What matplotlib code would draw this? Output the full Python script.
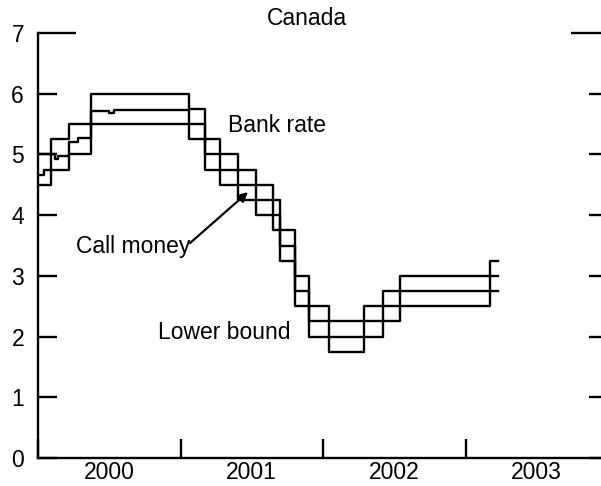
import matplotlib
matplotlib.use("Agg")
import matplotlib.pyplot as plt

plt.rcParams['font.family'] = ['Liberation Sans', 'DejaVu Sans']

# Policy rate changes (decimal years), levels in percent
bank_dates = [2000.00, 2000.09, 2000.22, 2000.375, 2001.06, 2001.17, 2001.28, 2001.40,
              2001.53, 2001.65, 2001.70, 2001.80, 2001.90, 2002.04, 2002.29, 2002.42,
              2002.54, 2003.17, 2003.23]
bank_rate = [5.00, 5.25, 5.50, 6.00, 5.75, 5.25, 5.00, 4.75, 4.50, 4.25, 3.75, 3.00,
             2.50, 2.25, 2.50, 2.75, 3.00, 3.25, 3.25]
lower_bound = [4.50, 4.75, 5.00, 5.50, 5.25, 4.75, 4.50, 4.25, 4.00, 3.75, 3.25, 2.50,
               2.00, 1.75, 2.00, 2.25, 2.50, 2.75, 2.75]

call_dates = [2000.00, 2000.04, 2000.09, 2000.12, 2000.14, 2000.22, 2000.28, 2000.375,
              2000.50, 2000.53, 2001.06, 2001.17, 2001.28, 2001.40, 2001.53, 2001.65,
              2001.70, 2001.80, 2001.90, 2002.04, 2002.29, 2002.42, 2002.54, 2003.17,
              2003.23]
call_money = [4.66, 4.74, 5.00, 4.92, 4.98, 5.21, 5.27, 5.72, 5.69, 5.73, 5.50, 5.00,
              4.75, 4.50, 4.25, 4.00, 3.50, 2.75, 2.25, 2.00, 2.25, 2.50, 2.75, 3.00,
              3.00]

year_labels = ['2000', '2001', '2002', '2003']
year_starts = [2000, 2001, 2002, 2003, 2004]
y_ticks = [0, 1, 2, 3, 4, 5, 6, 7]

FS = 16.5

fig = plt.figure(figsize=(6.01, 4.86), dpi=100)
ax = fig.add_axes([38 / 601, 28 / 486, 570 / 601, 425 / 486])

lw = 1.7
ax.plot(bank_dates, bank_rate, drawstyle='steps-post', color='black', lw=lw)
ax.plot(bank_dates, lower_bound, drawstyle='steps-post', color='black', lw=lw)
ax.plot(call_dates, call_money, drawstyle='steps-post', color='black', lw=lw)

ax.set_xlim(2000, 2004)
ax.set_ylim(0, 7)

for side in ['top', 'right']:
    ax.spines[side].set_visible(False)
for side in ['left', 'bottom']:
    ax.spines[side].set_linewidth(1.7)

ax.set_yticks(y_ticks)
ax.set_yticklabels([str(v) for v in y_ticks])
ax.tick_params(axis='y', direction='in', length=14, width=1.7, left=True, right=True,
               labelsize=FS, pad=10)
# the top tick is drawn longer, like a short frame corner
top_tick = ax.yaxis.get_major_ticks()[-1]
top_tick.tick1line.set_markersize(27)
top_tick.tick2line.set_markersize(27)

ax.set_xticks(year_starts)
ax.set_xticklabels([])
ax.set_xticks([y + 0.5 for y in year_starts[:-1]], minor=True)
ax.set_xticklabels(year_labels, minor=True)
ax.tick_params(axis='x', which='major', direction='in', length=13.5, width=1.7)
ax.tick_params(axis='x', which='minor', length=0, labelsize=FS, pad=2.5)

fig.text(307 / 601, 1 - 25 / 486, 'Canada', ha='center', va='baseline', fontsize=FS)
ax.text(2001.333, 5.37, 'Bank rate', ha='left', va='baseline', fontsize=FS)
ax.text(2000.267, 3.38, 'Call money', ha='left', va='baseline', fontsize=FS)
ax.text(2000.842, 1.96, 'Lower bound', ha='left', va='baseline', fontsize=FS)
ax.annotate('', xy=(2001.474, 4.38), xytext=(2001.067, 3.54),
            arrowprops=dict(arrowstyle='-|>', color='black', lw=1.6,
                            mutation_scale=14, shrinkA=0, shrinkB=0))

fig.savefig('out.png', dpi=100)
